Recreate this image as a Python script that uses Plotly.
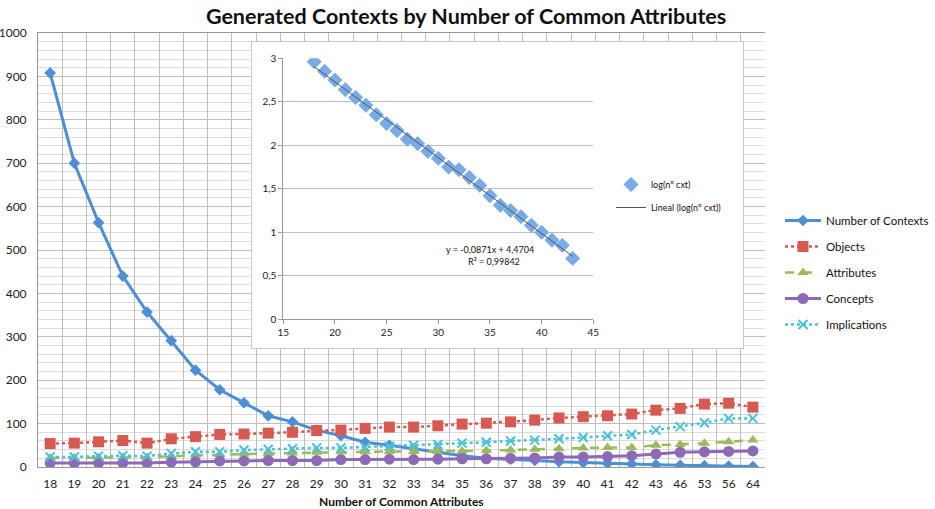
import plotly.graph_objects as go

# ---------------- data ----------------
categories = ["18", "19", "20", "21", "22", "23", "24", "25", "26", "27", "28", "29", "30",
              "31", "32", "33", "34", "35", "36", "37", "38", "39", "40", "41", "42", "43",
              "46", "53", "56", "64"]
contexts = [908, 700, 563, 440, 357, 291, 223, 178, 148, 118, 104, 85, 72, 57, 50, 42, 35,
            26, 20, 18, 15, 12, 10, 8, 7, 5, 4, 3, 2, 1]
objects = [54, 55, 58, 61, 55, 65, 70, 75, 76, 78, 80, 84, 85, 89, 92, 92, 95, 99, 101, 104,
           108, 113, 116, 118, 122, 131, 135, 145, 147, 138]
attributes = [21, 21, 22, 22, 22, 25, 27, 29, 30, 31, 32, 34, 35, 35, 36, 36, 36, 37, 38, 39,
              41, 42, 44, 45, 45, 50, 52, 55, 58, 62]
concepts = [9, 9, 9, 9, 9, 11, 12, 14, 14, 15, 15, 15, 17, 17, 18, 17, 18, 19, 19, 20, 21, 23,
            23, 24, 26, 30, 34, 35, 36, 37]
implications = [23, 23, 25, 26, 25, 31, 35, 35, 39, 41, 42, 44, 44, 46, 48, 50, 52, 55, 57, 60,
                62, 65, 68, 72, 75, 85, 93, 102, 112, 112]

inset_x = [18, 19, 20, 21, 22, 23, 24, 25, 26, 27, 28, 29, 30, 31, 32, 33, 34, 35, 36, 37,
           38, 39, 40, 41, 42, 43]
inset_log = [2.96, 2.85, 2.75, 2.64, 2.55, 2.46, 2.35, 2.25, 2.17, 2.07, 2.02, 1.93, 1.85, 1.75,
             1.72, 1.63, 1.54, 1.42, 1.31, 1.25, 1.18, 1.08, 1.00, 0.91, 0.85, 0.70]
trend_slope = -0.0871
trend_intercept = 4.4704
trend_x = [18, 43]

FONT = "Lato"
W, H = 935, 509


def px(x):
    return x / W


def py(y):
    return 1 - y / H


fig = go.Figure()

series = [
    ("Number of Contexts", contexts, "#4D8FD6", "solid", "diamond", 9, 3),
    ("Objects", objects, "#D65A52", "dot", "square", 11, 2.5),
    ("Attributes", attributes, "#9BBB59", "dash", "triangle-up", 10, 2.5),
    ("Concepts", concepts, "#8D6AB8", "solid", "circle", 11, 3),
    ("Implications", implications, "#4BC0D9", "dot", "x-thin-open", 9, 2.5),
]
for i, (name, vals, col, dash, sym, size, lw) in enumerate(series):
    mk = dict(symbol=sym, size=size, color=col)
    if sym == "x-thin-open":
        mk["line"] = dict(color=col, width=2)
    fig.add_trace(go.Scatter(
        x=categories, y=vals, name=name, mode="lines+markers",
        line=dict(color=col, width=lw, dash=dash), marker=mk,
        xaxis="x", yaxis="y", legend="legend", legendgroup=name,
    ))

# inset box (blank subplot for white background and border)
fig.add_trace(go.Scatter(x=[0], y=[0], mode="markers", marker=dict(opacity=0),
                         showlegend=False, hoverinfo="skip", xaxis="x2", yaxis="y2"))

# inset traces
fig.add_trace(go.Scatter(
    x=inset_x, y=inset_log, name="log(nº cxt)", mode="markers",
    marker=dict(symbol="diamond", size=11, color="#78ACE8",
                line=dict(color="#5B93D4", width=0.5)),
    xaxis="x3", yaxis="y3", legend="legend2", legendgroup="log",
))
fig.add_trace(go.Scatter(
    x=trend_x, y=[trend_slope * v + trend_intercept for v in trend_x],
    name="Lineal (log(nº cxt))", mode="lines",
    line=dict(color="#555555", width=1),
    xaxis="x3", yaxis="y3", legend="legend2", legendgroup="lin",
))

grid = "#BDBDBD"
minor_grid = "#DCDCDC"

fig.update_layout(
    width=W, height=H,
    margin=dict(l=0, r=0, t=0, b=0),
    paper_bgcolor="white", plot_bgcolor="white",
    font=dict(family=FONT, color="#1a1a1a"),
    showlegend=True,
    title=dict(text="<b>Generated Contexts by Number of Common Attributes</b>",
               x=0.4985, y=py(16), xanchor="center", yanchor="middle",
               font=dict(size=21.5, family=FONT, color="#111111")),
    xaxis=dict(domain=[px(38), px(765)], type="category", tickson="boundaries",
               showgrid=True, gridcolor=grid, gridwidth=1,
               showline=True, linecolor="#999999", mirror=True,
               ticks="", tickfont=dict(size=12, family=FONT, color="#222222"),
               ticklabelstandoff=6, automargin=False,
               range=[-0.5, len(categories) - 0.5]),
    yaxis=dict(domain=[py(467), py(33)], range=[0, 1000], dtick=100,
               showgrid=True, gridcolor=grid, gridwidth=1,
               minor=dict(dtick=20, showgrid=True, gridcolor=minor_grid, gridwidth=1),
               showline=True, linecolor="#999999",
               ticks="", tickfont=dict(size=12, family=FONT, color="#222222"),
               ticklabelstandoff=8, automargin=False, zeroline=False),
    xaxis2=dict(domain=[px(252), px(743)], range=[0, 1], visible=True,
                showgrid=False, zeroline=False, showticklabels=False, ticks="",
                showline=True, linecolor="#C8C8C8", linewidth=1, mirror=True,
                anchor="y2", fixedrange=True),
    yaxis2=dict(domain=[py(348), py(42)], range=[0, 1], visible=True,
                showgrid=False, zeroline=False, showticklabels=False, ticks="",
                showline=True, linecolor="#C8C8C8", linewidth=1, mirror=True,
                anchor="x2", fixedrange=True),
    xaxis3=dict(domain=[px(283.3), px(593.3)], range=[15, 45], dtick=5,
                showgrid=False, zeroline=False,
                showline=True, linecolor="#999999", ticks="outside", ticklen=4,
                tickcolor="#999999", tickfont=dict(size=10, family=FONT, color="#222222"),
                anchor="y3", automargin=False),
    yaxis3=dict(domain=[py(319.3), py(58.3)], range=[0, 3], dtick=0.5,
                showgrid=True, gridcolor="#BDBDBD", zeroline=False,
                showline=True, linecolor="#999999", ticks="outside", ticklen=4,
                tickcolor="#999999", tickfont=dict(size=10, family=FONT, color="#222222"),
                anchor="x3", automargin=False),
    separators=",.",
    legend=dict(x=px(780), y=py(206), xanchor="left", yanchor="top",
                font=dict(size=11.5, family=FONT, color="#111111"),
                bgcolor="rgba(0,0,0,0)", tracegroupgap=7, itemwidth=36,
                traceorder="grouped"),
    legend2=dict(x=px(611), y=py(170), xanchor="left", yanchor="top",
                 font=dict(size=9, family=FONT, color="#111111"),
                 bgcolor="rgba(0,0,0,0)", itemwidth=30, tracegroupgap=4,
                 traceorder="grouped"),
    annotations=[
        dict(text="<b>Number of Common Attributes</b>", xref="paper", yref="paper",
             x=px(401), y=py(501), xanchor="center", yanchor="middle", showarrow=False,
             font=dict(size=12, family=FONT, color="#111111")),
        dict(text="y = -0,0871x + 4,4704", xref="paper", yref="paper",
             x=px(490), y=py(249), xanchor="center", yanchor="middle", showarrow=False,
             font=dict(size=9, family=FONT, color="#111111")),
        dict(text="R² = 0,99842", xref="paper", yref="paper",
             x=px(494), y=py(261), xanchor="center", yanchor="middle", showarrow=False,
             font=dict(size=9, family=FONT, color="#111111")),
    ],
)

fig.write_html("out.html")
